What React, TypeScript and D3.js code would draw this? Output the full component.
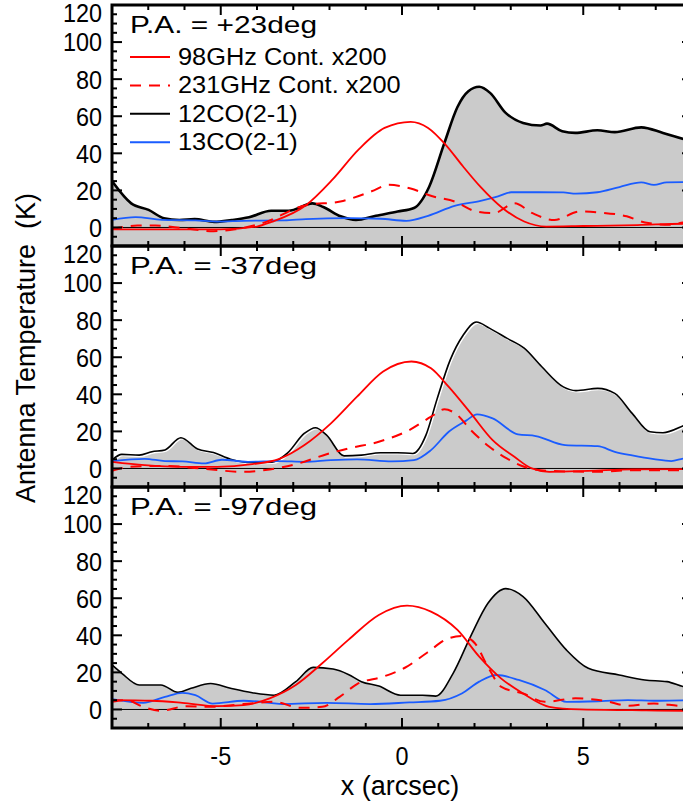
import { useEffect, useRef } from "react";
import * as d3 from "d3";

// each series is a list of [x (arcsec), antenna temperature (K)]
const pa23Co12 = [
  [-8, 25], [-7.47, 13], [-6.99, 9.5], [-6.57, 5], [-6.14, 4], [-5.72, 4.5], [-5.18, 3],
  [-4.7, 4], [-4.22, 5.5], [-3.61, 9], [-3.13, 9], [-2.47, 13], [-2.17, 11], [-1.69, 6],
  [-1.27, 4], [-0.72, 6.3], [-0.12, 8.6], [0.33, 10.5], [0.75, 22], [1.17, 45.6],
  [1.53, 65], [1.83, 73.5], [2.13, 75.9], [2.43, 72.6], [2.86, 61.8], [3.34, 56.4],
  [3.82, 55], [4.0, 56], [4.42, 51.9], [4.78, 51], [5.39, 52.4], [5.87, 51.4], [6.6, 54],
  [7.2, 51], [7.8, 47.4], [8, 46],
];
const pa23Co13 = [
  [-8, 4.1], [-7.35, 5.6], [-6.63, 4.1], [-5.7, 3.8], [-5.1, 3.2], [-4.37, 3.6], [-3.25, 3.8],
  [-2.65, 4.5], [-1.45, 5], [-0.6, 4.7], [0.12, 3.6], [0.72, 6.3], [1.45, 11.7], [2.17, 14.4],
  [2.65, 16.8], [3.01, 19], [3.73, 19], [4.45, 18.9], [4.8, 18.2], [5.39, 19], [6.0, 21.8],
  [6.6, 24.3], [6.95, 23], [7.3, 24.3], [7.8, 24.5], [8, 24.5],
];
const pa23Cont98 = [
  [-8, -1], [-7, -1], [-6, -1], [-5, -1], [-4, 0.5], [-3.6, 3], [-2.65, 12], [-1.92, 25.8],
  [-1.2, 42], [-0.48, 53.7], [0.24, 57], [0.72, 53.7], [1.2, 44.7], [1.68, 33], [2.16, 22],
  [2.77, 10.5], [3.37, 3.2], [3.98, 0.5], [5, 0.8], [6.5, 1.3], [7.8, 2], [8, 2],
];
const pa23Cont231 = [
  [-8, -1], [-7.3, 1], [-6.8, 1], [-6, -0.5], [-5.2, -2], [-4.6, -1], [-3.9, 2], [-2.65, 12],
  [-1.7, 14], [-0.84, 19.5], [-0.36, 23], [0.24, 21], [0.84, 16.8], [1.45, 14], [2.05, 8.6],
  [2.53, 7.7], [3.1, 13], [3.6, 7.7], [4.2, 4], [4.9, 8.6], [5.5, 8], [6.2, 6], [6.7, 2.7],
  [7.4, 1.4], [7.8, 2.7], [8, 2.7],
];

const pa37Co12 = [
  [-8, 4.5], [-7.73, 7.6], [-7.25, 7.2], [-6.9, 9], [-6.54, 10], [-6.1, 16.6], [-5.64, 10.5],
  [-5.2, 8.6], [-4.73, 5], [-4.13, 3.2], [-3.59, 3.4], [-3.17, 8.1], [-2.69, 19], [-2.39, 22],
  [-2.08, 18], [-1.6, 6.8], [-1.12, 7.2], [-0.6, 8.5], [-0.12, 8.5], [0.3, 8.1], [0.66, 18],
  [0.96, 37], [1.33, 58.6], [1.69, 72], [2.05, 79], [2.41, 75.7], [2.89, 70.3], [3.37, 64.9],
  [3.85, 55], [4.45, 44], [4.8, 42], [5.4, 43.2], [5.87, 40.5], [6.35, 29.7], [6.84, 19.8],
  [7.2, 19.3], [7.8, 23.4], [8, 25],
];
const pa37Co13 = [
  [-8, 4], [-7.1, 5.2], [-6.54, 4], [-6.06, 3.8], [-5.46, 2.7], [-4.97, 4.7], [-4.25, 3.6],
  [-3.4, 4], [-2.69, 3.6], [-1.96, 4.5], [-1.24, 4.9], [-0.28, 3.8], [0.33, 4.5], [0.8, 9.9],
  [1.29, 19.8], [1.77, 25.8], [2.07, 29.2], [2.5, 27], [3.2, 18.4], [3.69, 17.5], [4.5, 12.6],
  [5.4, 12], [5.87, 9], [6.35, 7], [6.95, 5], [7.43, 4], [7.8, 5.4], [8, 5.5],
];
const pa37Cont98 = [
  [-8, 3.6], [-7.1, 1.8], [-6.06, 0.9], [-5.1, 0.9], [-4.13, 2.3], [-3.4, 5], [-2.69, 12.6],
  [-1.96, 24.3], [-1.24, 38.7], [-0.52, 52.3], [0.26, 57.7], [0.8, 54], [1.29, 44],
  [1.9, 29.7], [2.5, 15.3], [3.1, 6.3], [3.58, 0], [4.06, -1.8], [5.14, -1.3], [6.35, -0.5],
  [7.8, -0.4], [8, -0.4],
];
const pa37Cont231 = [
  [-8, -1.3], [-7.5, 0.9], [-6.54, 1.4], [-5.58, 0], [-4.37, -1.8], [-3.65, -0.5], [-2.8, 3],
  [-2.08, 7.7], [-1.48, 10.8], [-0.64, 14.4], [0.2, 20.7], [0.8, 27.9], [1.17, 31.9],
  [1.47, 29.7], [1.9, 20.7], [2.41, 11.7], [2.89, 5.4], [3.37, 0.9], [4.06, -1.3], [5.4, -1.8],
  [6.35, -0.9], [7.8, -0.9], [8, -0.9],
];

const pa97Co12 = [
  [-8, 24], [-7.73, 19.5], [-7.25, 13.2], [-6.65, 13.2], [-6.18, 9.2], [-5.82, 11.4],
  [-5.28, 14], [-4.73, 11.4], [-4.13, 9], [-3.53, 7.7], [-2.93, 15], [-2.45, 22.7], [-1.9, 21.8],
  [-1.48, 18.9], [-1.12, 15], [-0.64, 12.6], [-0.04, 7.7], [0.57, 7.7], [0.93, 7.2],
  [1.41, 19.5], [1.89, 39.3], [2.37, 57.3], [2.86, 65.2], [3.34, 60.9], [3.94, 46.5],
  [4.54, 32], [5.14, 22.2], [5.99, 18.6], [6.7, 15.9], [7.31, 15], [7.77, 12.3], [8, 11.5],
];
const pa97Co13 = [
  [-8, 5.6], [-7.14, 3.6], [-6.54, 6.8], [-6.06, 9], [-5.7, 7.7], [-5.22, 3.2], [-4.37, 4.7],
  [-3.65, 3.6], [-3.29, 2.9], [-2.08, 3.6], [-0.88, 2.9], [0.2, 3.8], [1.05, 4.7], [1.65, 8.6],
  [2.13, 15], [2.61, 18.6], [3.22, 15.9], [3.94, 10.5], [4.54, 4.1], [5.51, 4.5], [6.23, 5],
  [6.95, 4.7], [7.8, 4.9], [8, 4.9],
];
const pa97Cont98 = [
  [-8, 5], [-6.9, 4.7], [-6.06, 3.6], [-5.1, 1.8], [-4.37, 2.3], [-3.65, 6], [-2.93, 13.2],
  [-2.2, 24.9], [-1.48, 37.5], [-0.64, 51], [0.14, 56], [0.8, 52.8], [1.53, 42.9],
  [2.13, 28.5], [2.73, 16.8], [3.34, 8.6], [4.06, 1.4], [4.9, 0], [6.35, -0.4], [7.8, -0.7],
  [8, -0.7],
];
const pa97Cont231 = [
  [-8, 4.1], [-7.6, 5], [-7.14, 1.4], [-6.66, -0.7], [-5.94, 1.8], [-5.34, 1.4], [-4.37, 2.9],
  [-3.53, 4.1], [-2.8, 0.9], [-2.2, 1.4], [-1.72, 6.8], [-1.24, 13.7], [-0.52, 17.7],
  [0.08, 22.5], [0.69, 30.6], [1.29, 38.4], [1.65, 39.6], [2.01, 35.7], [2.37, 23], [2.73, 12.3],
  [3.34, 8.6], [3.94, 4.1], [4.78, 6], [5.63, 4.5], [6.23, 2], [6.95, 3.2], [7.8, 1.8], [8, 1.8],
];

const panelTitles = ["P.A. = +23deg", "P.A. = -37deg", "P.A. = -97deg"];
const legendLabels = ["98GHz Cont. x200", "231GHz Cont. x200", "12CO(2-1)", "13CO(2-1)"];
const yTickValues = [0, 20, 40, 60, 80, 100, 120];
const xTickValues = [-5, 0, 5];

const panels = [
  { title: panelTitles[0], co12: pa23Co12, co13: pa23Co13, c98: pa23Cont98, c231: pa23Cont231, coWidth: 2.6, halo: false },
  { title: panelTitles[1], co12: pa37Co12, co13: pa37Co13, c98: pa37Cont98, c231: pa37Cont231, coWidth: 1.6, halo: true },
  { title: panelTitles[2], co12: pa97Co12, co13: pa97Co13, c98: pa97Cont98, c231: pa97Cont231, coWidth: 1.6, halo: false },
];

const RED = "#ff0000";
const BLUE = "#1a5cff";
const FONT = "Arial, 'Liberation Sans', Helvetica, sans-serif";

const App = () => {
  const svgRef = useRef<SVGSVGElement>(null);

  useEffect(() => {
    const svg = d3.select(svgRef.current);
    svg.selectAll("*").remove();

    const left = 112;
    const right = 692;
    const top = 5;
    const panelH = 241;

    const x = d3.scaleLinear().domain([-8, 8]).range([left, right]);

    panels.forEach((p, i) => {
      const y0 = top + i * panelH;
      const y = d3.scaleLinear().domain([-10, 120]).range([y0 + panelH, y0]);
      const g = svg.append("g");

      g.append("clipPath")
        .attr("id", `clip${i}`)
        .append("rect")
        .attr("x", left)
        .attr("y", y0)
        .attr("width", right - left)
        .attr("height", panelH);

      const plot = g.append("g").attr("clip-path", `url(#clip${i})`);

      const area = d3
        .area<number[]>()
        .x((d) => x(d[0]))
        .y0(y(-10))
        .y1((d) => y(d[1]))
        .curve(d3.curveMonotoneX);
      const line = d3
        .line<number[]>()
        .x((d) => x(d[0]))
        .y((d) => y(d[1]))
        .curve(d3.curveMonotoneX);

      plot.append("path").attr("d", area(p.co12)).attr("fill", "#cbcbcb");

      plot
        .append("line")
        .attr("x1", left)
        .attr("x2", right)
        .attr("y1", y(0))
        .attr("y2", y(0))
        .attr("stroke", "#000")
        .attr("stroke-width", 1);

      if (p.halo) {
        plot
          .append("path")
          .attr("d", line(p.co12))
          .attr("transform", "translate(1.2,1.2)")
          .attr("fill", "none")
          .attr("stroke", "#fff")
          .attr("stroke-width", 1.4);
      }
      plot
        .append("path")
        .attr("d", line(p.co12))
        .attr("fill", "none")
        .attr("stroke", "#000")
        .attr("stroke-width", p.coWidth);
      plot
        .append("path")
        .attr("d", line(p.co13))
        .attr("fill", "none")
        .attr("stroke", BLUE)
        .attr("stroke-width", 1.8);
      plot
        .append("path")
        .attr("d", line(p.c231))
        .attr("fill", "none")
        .attr("stroke", RED)
        .attr("stroke-width", 2)
        .attr("stroke-dasharray", "11,8");
      plot
        .append("path")
        .attr("d", line(p.c98))
        .attr("fill", "none")
        .attr("stroke", RED)
        .attr("stroke-width", 1.8);

      // ticks (inward on all four sides)
      const ticks = g.append("g").attr("stroke", "#000").attr("stroke-width", 2);
      d3.range(-10, 121, 5).forEach((v) => {
        const len = v % 20 === 0 ? 10 : 5;
        ticks.append("line").attr("x1", left).attr("x2", left + len).attr("y1", y(v)).attr("y2", y(v));
        ticks.append("line").attr("x1", right).attr("x2", right - len).attr("y1", y(v)).attr("y2", y(v));
      });
      d3.range(-8, 9, 1).forEach((v) => {
        const len = v % 5 === 0 ? 10 : 5;
        ticks.append("line").attr("x1", x(v)).attr("x2", x(v)).attr("y1", y0 + panelH).attr("y2", y0 + panelH - len);
        ticks.append("line").attr("x1", x(v)).attr("x2", x(v)).attr("y1", y0).attr("y2", y0 + len);
      });

      g.append("rect")
        .attr("x", left)
        .attr("y", y0)
        .attr("width", right - left)
        .attr("height", panelH)
        .attr("fill", "none")
        .attr("stroke", "#000")
        .attr("stroke-width", 3);

      // y tick labels, slightly condensed like the original font
      yTickValues.forEach((v) => {
        g.append("text")
          .attr("transform", `translate(102,${y(v) + (v === 120 ? 8 : 0)}) scale(0.9,1)`)
          .attr("dy", "0.36em")
          .attr("text-anchor", "end")
          .attr("font-family", FONT)
          .attr("font-size", 26)
          .attr("fill", "#000")
          .text(v);
      });

      g.append("text")
        .attr("x", 130)
        .attr("y", y0 + 28)
        .attr("font-family", FONT)
        .attr("font-size", 24)
        .attr("textLength", 187)
        .attr("lengthAdjust", "spacingAndGlyphs")
        .attr("fill", "#000")
        .text(p.title);
    });

    // legend in the first panel
    const legendStyles = [
      { color: RED, dash: null },
      { color: RED, dash: "11,8" },
      { color: "#000", dash: null },
      { color: BLUE, dash: null },
    ];
    legendLabels.forEach((label, i) => {
      const ly = 57 + i * 28.4;
      svg
        .append("line")
        .attr("x1", 130)
        .attr("x2", 170)
        .attr("y1", ly)
        .attr("y2", ly)
        .attr("stroke", legendStyles[i].color)
        .attr("stroke-width", 2)
        .attr("stroke-dasharray", legendStyles[i].dash);
      svg
        .append("text")
        .attr("transform", `translate(178,${ly + 8}) scale(1.08,1)`)
        .attr("font-family", FONT)
        .attr("font-size", 23.5)
        .attr("fill", "#000")
        .text(label);
    });

    // x axis labels
    const bottom = top + 3 * panelH;
    xTickValues.forEach((v) => {
      svg
        .append("text")
        .attr("transform", `translate(${x(v)},${bottom + 37}) scale(0.9,1)`)
        .attr("text-anchor", "middle")
        .attr("font-family", FONT)
        .attr("font-size", 26)
        .attr("fill", "#000")
        .text(v);
    });
    svg
      .append("text")
      .attr("x", 400)
      .attr("y", 795)
      .attr("text-anchor", "middle")
      .attr("font-family", FONT)
      .attr("font-size", 27)
      .attr("fill", "#000")
      .text("x (arcsec)");

    svg
      .append("text")
      .attr("transform", `translate(35,348) rotate(-90)`)
      .attr("text-anchor", "middle")
      .attr("font-family", FONT)
      .attr("font-size", 27)
      .attr("fill", "#000")
      .attr("xml:space", "preserve")
      .style("white-space", "pre")
      .text("Antenna Temperature  (K)");
  }, []);

  return (
    <svg
      ref={svgRef}
      width={683}
      height={805}
      style={{ position: "absolute", left: 0, top: 0, background: "#fff" }}
    ></svg>
  );
};

export default App;
